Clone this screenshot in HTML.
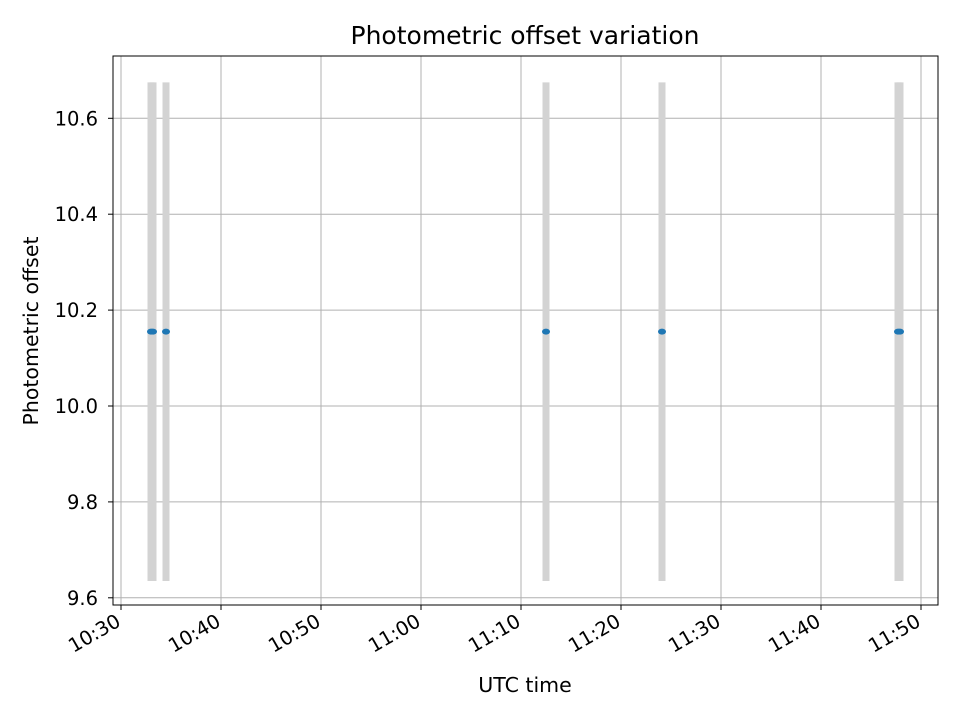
<!DOCTYPE html>
<html><head><meta charset="utf-8"><style>
body{margin:0;background:#fff;}
svg text{font-family:"DejaVu Sans","Liberation Sans",sans-serif;fill:#000;}
</style></head><body>
<svg id="chart" width="960" height="720" viewBox="0 0 960 720">
<rect width="960" height="720" fill="#fff"/>
<g id="grid"></g>
<g id="errbars"></g>
<g id="points"></g>
<rect x="113" y="56" width="825" height="549" fill="none" stroke="#000" stroke-width="1"/>
<g id="xticks"></g>
<g id="yticks"></g>
<text x="525" y="44" style="font-size:25px" text-anchor="middle">Photometric offset variation</text>
<text x="525" y="692" style="font-size:20.5px" text-anchor="middle">UTC time</text>
<text transform="translate(38,331) rotate(-90)" style="font-size:20.5px" text-anchor="middle">Photometric offset</text>
</svg>
<script>
// minutes after 10:00
const times = [33.0, 33.2, 34.5, 72.5, 84.1, 107.7, 107.9];
const offsets = [10.155, 10.155, 10.155, 10.155, 10.155, 10.155, 10.155];
const errLow = [9.635, 9.635, 9.635, 9.635, 9.635, 9.635, 9.635];
const errHigh = [10.675, 10.675, 10.675, 10.675, 10.675, 10.675, 10.675];
const xTickVals = [30, 40, 50, 60, 70, 80, 90, 100, 110];
const xTickLabels = ["10:30","10:40","10:50","11:00","11:10","11:20","11:30","11:40","11:50"];
const yTickVals = [9.6, 9.8, 10.0, 10.2, 10.4, 10.6];
const yTickLabels = ["9.6","9.8","10.0","10.2","10.4","10.6"];

const NS = "http://www.w3.org/2000/svg";
function xs(m){ return 121 + (m - 30) * 10; }
function ys(v){ return 406 - (v - 10.0) * 479.5; }
function mk(tag, attrs, parent){ const e = document.createElementNS(NS, tag); for (const k in attrs) e.setAttribute(k, attrs[k]); document.getElementById(parent).appendChild(e); return e; }

xTickVals.forEach((v, i) => {
  const x = xs(v);
  const g = mk('line', {x1:x, x2:x, y1:56, y2:605, stroke:'#b0b0b0', 'stroke-width':1}, 'grid');
  
  
  const t = mk('line', {x1:x, x2:x, y1:605, y2:610, stroke:'#000'}, 'xticks');
  
  
  const l = mk('text', {x:x+1, y:625, style:'font-size:19.5px', 'text-anchor':'end', transform:`rotate(-30 ${x+1} 625)`}, 'xticks');
  l.textContent = xTickLabels[i];
  
  
});
yTickVals.forEach((v, i) => {
  const y = ys(v);
  const g = mk('line', {x1:113, x2:938, y1:y, y2:y, stroke:'#b0b0b0', 'stroke-width':1}, 'grid');
  
  
  const t = mk('line', {x1:108, x2:113, y1:y, y2:y, stroke:'#000'}, 'yticks');
  
  
  const l = mk('text', {x:98, y:y+7, style:'font-size:19.5px', 'text-anchor':'end'}, 'yticks');
  l.textContent = yTickLabels[i];
  
  
});
times.forEach((m, i) => {
  const x = xs(m);
  const b = mk('line', {x1:x, x2:x, y1:ys(errLow[i]), y2:ys(errHigh[i]), stroke:'#d3d3d3', 'stroke-width':7}, 'errbars');
  
  
});
times.forEach((m, i) => {
  const p = mk('ellipse', {cx:xs(m), cy:ys(offsets[i]), rx:4, ry:3, fill:'#1f77b4'}, 'points');
  
  
});
</script>
</body></html>
